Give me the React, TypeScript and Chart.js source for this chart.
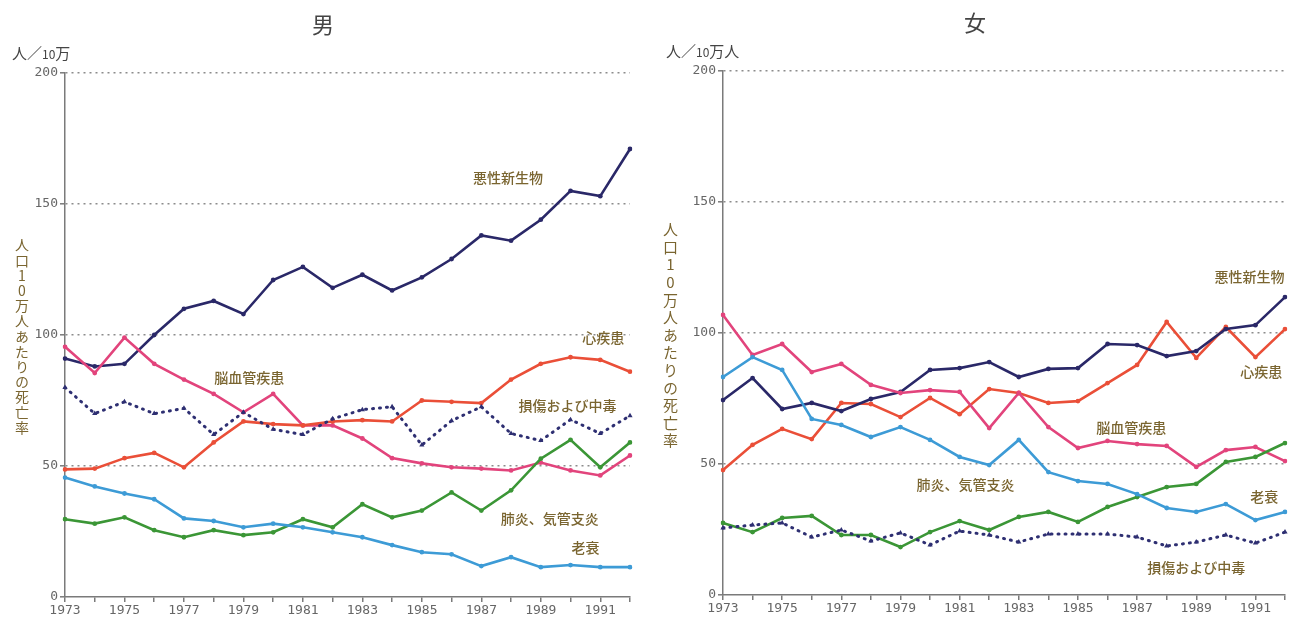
import React, { useEffect, useRef } from "react";
import { Chart, registerables } from "chart.js";

Chart.register(...registerables);

const YEARS = ["1973", "1974", "1975", "1976", "1977", "1978", "1979", "1980", "1981", "1982",
  "1983", "1984", "1985", "1986", "1987", "1988", "1989", "1990", "1991", "1992"];
const Y_TICKS = [0, 50, 100, 150, 200];

// 男
const M_CANCER = [91, 88, 89, 100, 110, 113, 108, 121, 126, 118, 123, 117, 122, 129, 138, 136, 144, 155, 153, 171];
const M_HEART = [48.7, 49, 53, 55, 49.5, 59, 67, 66, 65.5, 67, 67.5, 67, 75, 74.5, 74, 83, 89, 91.5, 90.5, 86];
const M_STROKE = [95.5, 85.5, 99, 89, 83, 77.5, 70.5, 77.5, 65.5, 65.5, 60.5, 53, 51, 49.5, 49, 48.3, 51.3, 48.3, 46.4, 54];
const M_INJURY = [80, 70, 74.5, 70, 72, 62, 70.5, 64, 62, 68, 71.5, 72.6, 58, 67.3, 72.6, 62.4, 59.7, 67.7, 62.4, 69.2];
const M_PNEUMONIA = [29.7, 28, 30.4, 25.5, 22.8, 25.5, 23.6, 24.7, 29.7, 26.6, 35.4, 30.4, 33, 39.9, 33, 40.7, 52.8, 60, 49.5, 59];
const M_SENILITY = [45.6, 42.2, 39.5, 37.3, 30, 29, 26.6, 28, 26.6, 24.7, 22.8, 19.8, 17.1, 16.3, 11.8, 15.2, 11.4, 12.2, 11.4, 11.4];

// 女
const F_CANCER = [74.4, 82.8, 71, 73.3, 70.2, 74.8, 77.5, 85.9, 86.6, 88.9, 83.2, 86.3, 86.6, 95.8, 95.4, 91.2, 93.1, 101.5, 103, 113.7];
const F_HEART = [47.7, 57.3, 63.4, 59.5, 73.3, 72.9, 67.9, 75.2, 69, 78.6, 77.1, 73.3, 74, 80.9, 87.8, 104.2, 90.5, 102.3, 90.8, 101.5];
const F_STROKE = [106.9, 91.6, 95.8, 85.1, 88.2, 80.2, 77.1, 78.2, 77.5, 63.7, 77.1, 64.1, 56.1, 58.8, 57.6, 56.9, 48.9, 55.3, 56.5, 51.1];
const F_SENILITY = [83.2, 90.8, 85.9, 67.2, 64.9, 60.3, 64.1, 59.2, 52.7, 49.6, 59.2, 46.9, 43.5, 42.4, 38.5, 33.2, 31.7, 34.7, 28.6, 31.7];
const F_PNEUMONIA = [27.5, 24, 29.4, 30.2, 22.9, 22.9, 18.3, 24, 28.2, 24.8, 29.8, 31.7, 27.9, 33.6, 37.4, 41.2, 42.4, 50.8, 52.7, 58];
const F_INJURY = [25.6, 26.7, 27.5, 22.1, 24.8, 20.6, 23.7, 19.1, 24.4, 22.9, 20.2, 23.3, 23.3, 23.3, 22.1, 18.7, 20.2, 22.9, 19.8, 24];

const NAMES = {
  cancer: "悪性新生物",
  heart: "心疾患",
  stroke: "脳血管疾患",
  injury: "損傷および中毒",
  pneumonia: "肺炎、気管支炎",
  senility: "老衰",
};

// label anchors: [year, value]
const M_LABELS = [
  { text: NAMES.cancer, year: 1987.9, value: 159.9 },
  { text: NAMES.heart, year: 1991.1, value: 98.9 },
  { text: NAMES.stroke, year: 1979.2, value: 83.6 },
  { text: NAMES.injury, year: 1989.9, value: 72.9 },
  { text: NAMES.pneumonia, year: 1989.3, value: 29.8 },
  { text: NAMES.senility, year: 1990.5, value: 18.7 },
];
const F_LABELS = [
  { text: NAMES.cancer, year: 1990.8, value: 121.4 },
  { text: NAMES.heart, year: 1991.2, value: 85.1 },
  { text: NAMES.stroke, year: 1986.8, value: 63.7 },
  { text: NAMES.pneumonia, year: 1981.2, value: 42 },
  { text: NAMES.senility, year: 1991.3, value: 37.4 },
  { text: NAMES.injury, year: 1989.0, value: 10.3 },
];

const COLORS = {
  cancer: "#2a2868",
  heart: "#ea4f38",
  stroke: "#e2447c",
  injury: "#2e2f72",
  pneumonia: "#3b9636",
  senility: "#3d9bd6",
};

const TICK_FONT = { family: "'DejaVu Sans Mono', monospace", size: 13 };
const TICK_COLOR = "#666";
const AXIS_COLOR = "#7a7a7a";
const LABEL_COLOR = "#7a6530";

function solid(label: string, data: number[], color: string) {
  return {
    label, data,
    borderColor: color, backgroundColor: color,
    borderWidth: 2.6, pointRadius: 2.4, pointHoverRadius: 2.4,
    pointBackgroundColor: color, pointBorderWidth: 0,
    tension: 0,
  };
}
function dotted(label: string, data: number[], color: string) {
  return {
    label, data,
    borderColor: color, backgroundColor: color,
    borderWidth: 3, borderDash: [1, 6], borderCapStyle: "round" as const,
    pointRadius: 3, pointStyle: "triangle", pointHoverRadius: 3,
    pointBackgroundColor: color, pointBorderWidth: 0,
    tension: 0,
  };
}

function makeLabelPlugin(items: { text: string; year: number; value: number }[]) {
  return {
    id: "seriesLabels",
    afterDatasetsDraw(chart: any) {
      const { ctx, scales } = chart;
      const x = scales.x, y = scales.y;
      ctx.save();
      ctx.font = "500 14px 'Noto Sans CJK JP', sans-serif";
      ctx.fillStyle = LABEL_COLOR;
      ctx.textAlign = "center";
      ctx.textBaseline = "middle";
      for (const it of items) {
        const px = x.getPixelForValue(it.year - Number(YEARS[0]));
        const py = y.getPixelForValue(it.value);
        ctx.fillText(it.text, px, py);
      }
      ctx.restore();
    },
  };
}

function buildConfig(datasets: any[], labels: any[], pad: { left: number; right: number; top: number; bottom: number }) {
  return {
    type: "line" as const,
    data: { labels: YEARS, datasets },
    plugins: [makeLabelPlugin(labels)],
    options: {
      responsive: false,
      animation: false as const,
      events: [],
      layout: { padding: pad },
      plugins: { legend: { display: false }, tooltip: { enabled: false } },
      scales: {
        x: {
          type: "category" as const,
          offset: false,
          afterFit: (a: any) => { a.height = 22; },
          grid: { drawOnChartArea: false, drawTicks: true, tickLength: 5, tickColor: AXIS_COLOR, lineWidth: 1.5 },
          border: { display: true, color: AXIS_COLOR, width: 1.5 },
          ticks: {
            autoSkip: false, maxRotation: 0, minRotation: 0, padding: 1,
            font: TICK_FONT, color: TICK_COLOR,
            callback: (_v: any, i: number) => (i % 2 === 0 ? YEARS[i] : ""),
          },
        },
        y: {
          min: Y_TICKS[0], max: Y_TICKS[Y_TICKS.length - 1],
          afterFit: (a: any) => { a.width = 40; },
          afterBuildTicks: (a: any) => { a.ticks = Y_TICKS.map((v) => ({ value: v })); },
          grid: {
            color: (c: any) => (c.tick && c.tick.value === 0 ? "rgba(0,0,0,0)" : "#8c8c8c"),
            lineWidth: 1.6, drawTicks: true, tickLength: 5, tickColor: AXIS_COLOR, tickWidth: 1.5,
          },
          border: { display: true, color: AXIS_COLOR, width: 1.5, dash: [2, 4] },
          ticks: { font: TICK_FONT, color: TICK_COLOR, padding: 2 },
        },
      },
    },
  };
}

function LineChart({ cfg, width, height }: { cfg: any; width: number; height: number }) {
  const ref = useRef<HTMLCanvasElement | null>(null);
  useEffect(() => {
    if (!ref.current) return;
    const chart = new Chart(ref.current, cfg);
    return () => chart.destroy();
  }, [cfg]);
  return <canvas ref={ref} width={width} height={height} style={{ width, height, display: "block" }} />;
}

const maleCfg = buildConfig(
  [
    dotted(NAMES.injury, M_INJURY, COLORS.injury),
    solid(NAMES.senility, M_SENILITY, COLORS.senility),
    solid(NAMES.pneumonia, M_PNEUMONIA, COLORS.pneumonia),
    solid(NAMES.heart, M_HEART, COLORS.heart),
    solid(NAMES.stroke, M_STROKE, COLORS.stroke),
    solid(NAMES.cancer, M_CANCER, COLORS.cancer),
  ],
  M_LABELS,
  { left: 25, right: 20, top: 73, bottom: 5 }
);

const femaleCfg = buildConfig(
  [
    dotted(NAMES.injury, F_INJURY, COLORS.injury),
    solid(NAMES.senility, F_SENILITY, COLORS.senility),
    solid(NAMES.pneumonia, F_PNEUMONIA, COLORS.pneumonia),
    solid(NAMES.stroke, F_STROKE, COLORS.stroke),
    solid(NAMES.cancer, F_CANCER, COLORS.cancer),
    solid(NAMES.heart, F_HEART, COLORS.heart),
  ],
  F_LABELS,
  { left: 33, right: 18, top: 71, bottom: 7 }
);

const cjk = "'Noto Sans CJK JP', sans-serif";

export default function App() {
  return (
    <div style={{ position: "absolute", left: 0, top: 0, width: 1303, height: 624, background: "#fff", overflow: "hidden", fontFamily: cjk }}>
      <div style={{ position: "absolute", left: 0, top: 0 }}>
        <LineChart cfg={maleCfg} width={650} height={624} />
      </div>
      <div style={{ position: "absolute", left: 650, top: 0 }}>
        <LineChart cfg={femaleCfg} width={653} height={624} />
      </div>

      <div style={{ position: "absolute", left: 312, top: 9, fontSize: 22, color: "#444", lineHeight: "28px" }}>男</div>
      <div style={{ position: "absolute", left: 964, top: 7, fontSize: 22, color: "#444", lineHeight: "28px" }}>女</div>

      <div style={{ position: "absolute", left: 12, top: 43, fontSize: 15, color: "#444", lineHeight: "20px" }}>
        人／<span style={{ fontSize: 12 }}>10</span>万
      </div>
      <div style={{ position: "absolute", left: 666, top: 41, fontSize: 15, color: "#444", lineHeight: "20px" }}>
        人／<span style={{ fontSize: 12 }}>10</span>万人
      </div>

      <div style={{ position: "absolute", left: 13, top: 238, fontSize: 14, color: LABEL_COLOR, writingMode: "vertical-rl", textOrientation: "upright", lineHeight: "18px", letterSpacing: 1.2 }}>
        人口10万人あたりの死亡率
      </div>
      <div style={{ position: "absolute", left: 661, top: 222, fontSize: 15, color: LABEL_COLOR, writingMode: "vertical-rl", textOrientation: "upright", lineHeight: "18px", letterSpacing: 2.6 }}>
        人口10万人あたりの死亡率
      </div>
    </div>
  );
}
